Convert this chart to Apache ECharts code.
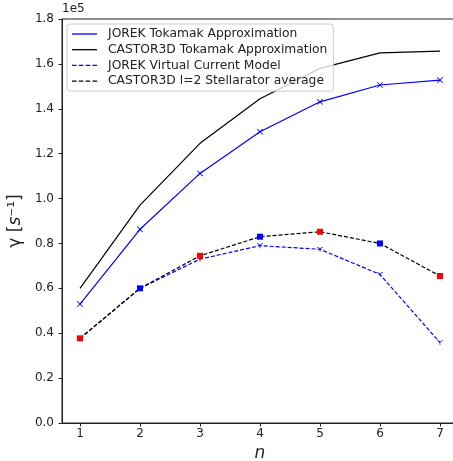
<!DOCTYPE html>
<html>
<head>
<meta charset="utf-8">
<script src="https://cdn.jsdelivr.net/npm/echarts@6/dist/echarts.min.js"></script>
<style>html,body{margin:0;padding:0;background:#fff}#c{width:453px;height:461px}</style>
</head>
<body>
<div id="c"></div>
<script>
// Data (values in s^-1)
const nValues = [1, 2, 3, 4, 5, 6, 7];
const jorekTokamak = [53000, 86300, 111200, 129800, 143100, 150600, 152800];
const castorTokamak = [60000, 97100, 124600, 144500, 158000, 164900, 165700];
const jorekVirtual = [37700, 60000, 73000, 79000, 77400, 66200, 35800];
const castorStellarator = [37700, 60000, 74500, 83000, 85200, 80000, 65500];
const stellMarkerColors = ['#ff0000', '#0000ff', '#ff0000', '#0000ff', '#ff0000', '#0000ff', '#ff0000'];
const yTicks = [0, 20000, 40000, 60000, 80000, 100000, 120000, 140000, 160000, 180000];
const seriesNames = ['JOREK Tokamak Approximation', 'CASTOR3D Tokamak Approximation', 'JOREK Virtual Current Model', 'CASTOR3D l=2 Stellarator average'];

const FONT = 'DejaVu Sans';
const pts = arr => arr.map((v, i) => [nValues[i], v]);
const xMarker = 'path://M0,1L1,0L5,4L9,0L10,1L6,5L10,9L9,10L5,6L1,10L0,9L4,5Z';
const triDown = 'path://M4.5,5L5.5,5L5.5,10L4.5,10Z M5.25,4.567L0.92,2.067L0.42,2.933L4.75,5.433Z M4.75,4.567L9.08,2.067L9.58,2.933L5.25,5.433Z';
const solidIcon = 'path://M0,0h25v1.3h-25z';
const dashIcon = 'path://M0,0h4.5v1.3h-4.5zM6.8,0h4.5v1.3h-4.5zM13.6,0h4.5v1.3h-4.5zM20.4,0h4.5v1.3h-4.5z';

const chart = echarts.init(document.getElementById('c'), null, {renderer: 'canvas'});
chart.setOption({
  animation: false,
  backgroundColor: '#fff',
  textStyle: {fontFamily: FONT},
  grid: {left: 62, top: 19, right: -5, bottom: 38, containLabel: false, outerBoundsMode: 'none',
         show: true, borderColor: '#222', borderWidth: 1, backgroundColor: 'transparent'},
  graphic: [{type: 'text', left: 62, top: 3, style: {text: '1e5', font: '12px "DejaVu Sans"', fill: '#222'}}],
  legend: {
    orient: 'vertical', left: 67, top: 24, z: 20,
    padding: [4, 6, 4, 5],
    itemWidth: 25, itemHeight: 14, itemGap: 3.7,
    backgroundColor: 'rgba(255,255,255,0.8)', borderColor: '#cccccc', borderWidth: 1, borderRadius: 3,
    symbolKeepAspect: true,
    textStyle: {fontFamily: FONT, fontSize: 12.3, color: '#222', padding: [0, 0, 0, 6]},
    data: [
      {name: seriesNames[0], icon: solidIcon, itemStyle: {color: '#0000ff'}},
      {name: seriesNames[1], icon: solidIcon, itemStyle: {color: '#000000'}},
      {name: seriesNames[2], icon: dashIcon, itemStyle: {color: '#0000ff'}},
      {name: seriesNames[3], icon: dashIcon, itemStyle: {color: '#000000'}}
    ]
  },
  xAxis: {
    type: 'value', min: 0.7, max: 7.3,
    name: 'n', nameLocation: 'middle', nameGap: 18,
    nameTextStyle: {fontFamily: FONT, fontSize: 17, fontStyle: 'italic', color: '#222'},
    axisLine: {show: true, lineStyle: {color: '#222', width: 1}},
    axisTick: {show: true, length: 3.5, lineStyle: {color: '#222'}, customValues: nValues},
    axisLabel: {fontFamily: FONT, fontSize: 12, color: '#222', margin: 5, customValues: nValues},
    splitLine: {show: false}
  },
  yAxis: {
    type: 'value', min: 0, max: 180000, interval: 20000,
    name: '{a|γ [}{i|s}{a|⁻¹]}', nameLocation: 'middle', nameGap: 32, nameRotate: 90,
    nameTextStyle: {rich: {a: {fontFamily: FONT, fontSize: 17, color: '#222'}, i: {fontFamily: FONT, fontSize: 17, fontStyle: 'italic', color: '#222'}}},
    axisLine: {show: true, lineStyle: {color: '#222', width: 1}},
    axisTick: {show: true, length: 3.5, lineStyle: {color: '#222'}},
    axisLabel: {fontFamily: FONT, fontSize: 12, color: '#222', margin: 8, formatter: v => (v / 1e5).toFixed(1)},
    splitLine: {show: false}
  },
  series: [
    {name: seriesNames[0], type: 'line', data: pts(jorekTokamak), color: '#0000ff',
     lineStyle: {color: '#0000ff', width: 1.2}, symbol: xMarker, symbolSize: 6, itemStyle: {color: '#0000ff'}, z: 3},
    {name: seriesNames[1], type: 'line', data: pts(castorTokamak), color: '#000000',
     lineStyle: {color: '#000000', width: 1.2}, showSymbol: false, symbol: 'none', z: 3},
    {name: seriesNames[2], type: 'line', data: pts(jorekVirtual), color: '#0000ff',
     lineStyle: {color: '#0000ff', width: 1.2, type: [4, 2]}, symbol: triDown, symbolSize: 6, symbolKeepAspect: true, itemStyle: {color: '#0000ff'}, z: 3},
    {name: seriesNames[3], type: 'line', color: '#000000',
     data: castorStellarator.map((v, i) => ({value: [nValues[i], v], itemStyle: {color: stellMarkerColors[i]}})),
     lineStyle: {color: '#000000', width: 1.2, type: [4, 2]}, symbol: 'rect', symbolSize: 6, z: 4}
  ]
});
</script>
</body>
</html>
